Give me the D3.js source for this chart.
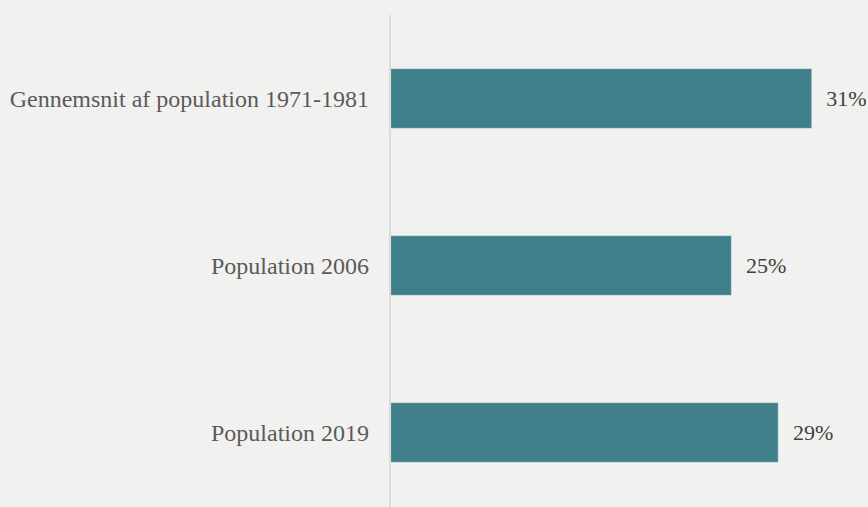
<!DOCTYPE html>
<html>
<head>
<meta charset="utf-8">
<script src="https://cdn.jsdelivr.net/npm/d3@7"></script>
<style>
  html, body { margin: 0; padding: 0; background: #f1f1f0; }
  svg { display: block; }
</style>
</head>
<body>
<svg id="chart"></svg>
<script>
// data
let categories = ['Gennemsnit af population 1971-1981', 'Population 2006', 'Population 2019']
let values = [30.9, 25.0, 28.45]
let valueLabels = ['31%', '25%', '29%']

function getConfig(){
    let width = 868
    let height = 507
    let margin = { top: 15, left: 391 }
    let container = d3.select('#chart')
        .attr('width', width)
        .attr('height', height)
    return { width, height, margin, container }
}

function getScales(config){
    let { margin } = config
    let yScale = d3.scaleBand()
        .domain(categories)
        .range([margin.top, margin.top + 501])
        .paddingInner(0.647)
        .paddingOuter(0.3235)

    //13.6px per percent point
    let xScale = d3.scaleLinear()
        .domain([0, 40])
        .range([margin.left, margin.left + 544])

    return { xScale, yScale }
}

function drawBars(config, scales){
    let { container, height } = config
    let { xScale, yScale } = scales
    let rows = categories.map((c, i) => ({ cat: c, val: values[i], label: valueLabels[i] }))

    container.selectAll('rect.bar')
        .data(rows)
        .join('rect')
        .attr('class', 'bar')
        .attr('x', xScale(0))
        .attr('y', d => yScale(d.cat))
        .attr('width', d => xScale(d.val) - xScale(0))
        .attr('height', yScale.bandwidth())
        .attr('fill', '#3e7f8a')
        .attr('stroke', '#6f9fa7')
        .attr('stroke-width', 0.6)

    // vertical axis line
    container.append('line')
        .attr('x1', xScale(0) - 1).attr('x2', xScale(0) - 1)
        .attr('y1', 15).attr('y2', height)
        .attr('stroke', '#dcdcdc')
        .attr('stroke-width', 2)

    container.selectAll('text.cat')
        .data(rows)
        .join('text')
        .attr('class', 'cat')
        .attr('x', xScale(0) - 22)
        .attr('y', d => yScale(d.cat) + yScale.bandwidth() / 2)
        .attr('dy', '0.35em')
        .attr('text-anchor', 'end')
        .style('font-family', '"Liberation Serif", "Times New Roman", serif')
        .style('font-size', '24px')
        .style('fill', '#5a5a5a')
        .text(d => d.cat)

    container.selectAll('text.val')
        .data(rows)
        .join('text')
        .attr('class', 'val')
        .attr('x', d => xScale(d.val) + 15)
        .attr('y', d => yScale(d.cat) + yScale.bandwidth() / 2)
        .attr('dy', '0.35em')
        .style('font-family', '"Liberation Serif", "Times New Roman", serif')
        .style('font-size', '22px')
        .style('fill', '#404040')
        .text(d => d.label)
}

let config = getConfig()
let scales = getScales(config)
drawBars(config, scales)
</script>
</body>
</html>
